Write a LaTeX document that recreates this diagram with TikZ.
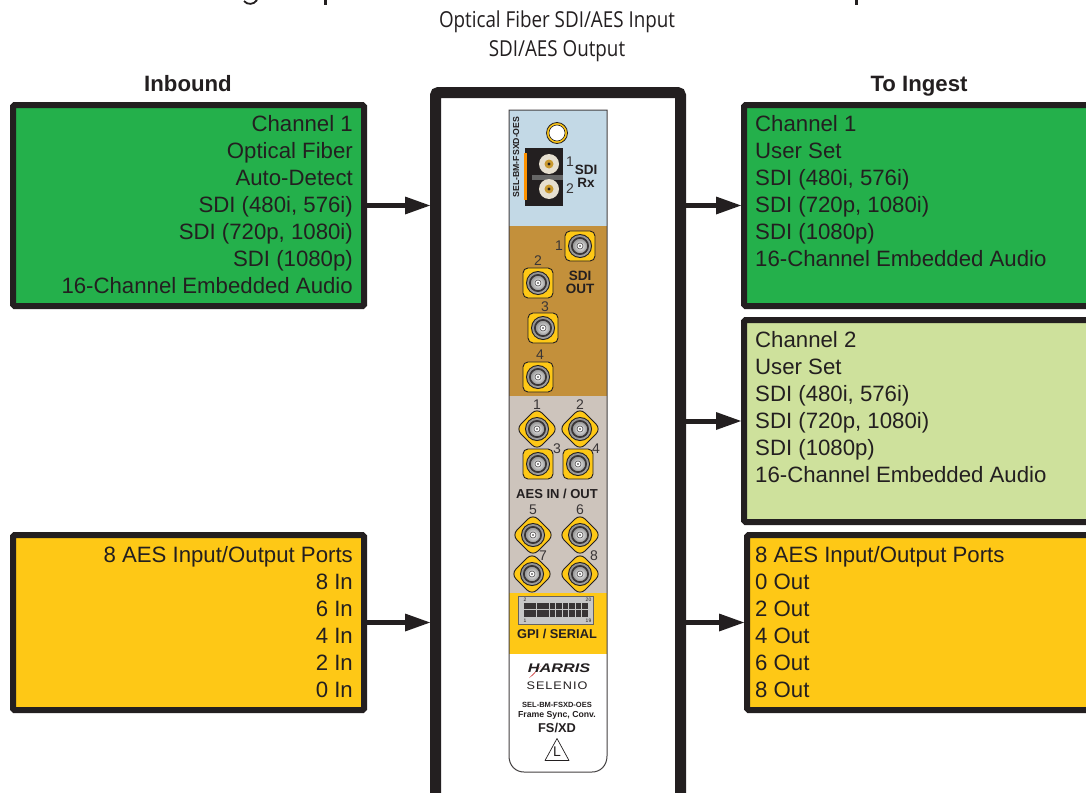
\documentclass[tikz,border=0pt]{standalone}
\usepackage{fontspec}
\setmainfont{Liberation Sans}
\newfontfamily\capfont[FakeStretch=0.855]{Open Sans}
\newfontfamily\selfont[LetterSpace=9,FakeStretch=1.15]{Liberation Sans}
\newfontfamily\harfont[FakeStretch=1.3]{Liberation Sans}
\usetikzlibrary{arrows.meta,calc}
\definecolor{ink}{HTML}{231F20}
\definecolor{gA}{HTML}{24B04B}
\definecolor{gB}{HTML}{CEE19C}
\definecolor{yel}{HTML}{FEC816}
\definecolor{bluep}{HTML}{C3D9E6}
\definecolor{brownp}{HTML}{C3903B}
\definecolor{greyp}{HTML}{CDC4BC}
\definecolor{creamp}{HTML}{E6DFCF}
\definecolor{goldp}{HTML}{C9992F}
\tikzset{
 x=1pt,y=-1pt,
 box/.style={draw=ink,line width=6pt,rounded corners=1.5pt,anchor=north west,inner sep=0pt},
 boxtxt/.style={text=ink,font=\fontsize{22.2}{27}\selectfont,inner sep=0pt},
 flow/.style={draw=ink,line width=5pt,-{Triangle[length=25pt,width=18pt,line width=0pt]},shorten >=0pt},
 headtxt/.style={text=ink,font=\fontsize{22.2}{26}\selectfont\bfseries,inner sep=0pt,anchor=base},
 captxt/.style={text=ink,font=\capfont\fontsize{22}{29}\selectfont,inner sep=0pt,align=center},
 num/.style={text=ink!90,font=\fontsize{14}{14}\selectfont,inner sep=0pt},
 lbl/.style={text=ink,font=\fontsize{13.5}{13}\selectfont\bfseries,inner sep=0pt,align=center},
 bnccore/.pic={
  \fill[ink] (0,0) circle[radius=12];
  \shade[inner color=white,outer color=black!45] (0,0) circle[radius=11];
  \draw[ink!90,line width=2pt] (0,0) circle[radius=8];
  \shade[inner color=white,outer color=black!40] (0,0) circle[radius=7];
  \fill[white,draw=ink!80,line width=.6pt] (0,0) circle[radius=3];
  \fill[ink] (0,0) circle[radius=.9];
 },
 bncsq/.pic={
  \draw[ink,line width=.9pt,fill=yel,rounded corners=5pt] (-15,-15) rectangle (15,15);
  \pic {bnccore};
 },
 bncdi/.pic={
  \draw[ink,line width=.9pt,fill=yel,rounded corners=7pt] (-21,0) -- (0,-21) -- (21,0) -- (0,21) -- cycle;
  \pic {bnccore};
 },
}
\begin{document}
\begin{tikzpicture}
\useasboundingbox (0,0) rectangle (1086,792);
\clip (0,0) rectangle (1086,792);
\fill[white] (0,0) rectangle (1086,792);

% cropped remains of the heading
\draw[ink,line width=1.8pt] (244,1) .. controls (247,5) and (254,5) .. (257,0);
\fill[ink] (324,0) rectangle (327,5);
\fill[ink] (855,0) rectangle (858,5);

\node[captxt] (capt) at (557,36) {Optical Fiber SDI/AES Input\\SDI/AES Output};
\node[headtxt] (hin) at (188,91.5) {Inbound};
\node[headtxt] (hout) at (919,91.5) {To Ingest};

% boxes
\node[box,fill=gA,minimum width=351pt,minimum height=201pt] (in1) at (10,102) {};
\node[box,fill=yel,minimum width=351pt,minimum height=175pt] (in2) at (10,532) {};
\node[box,fill=gA,minimum width=370pt,minimum height=201pt] (out1) at (741,102) {};
\node[box,fill=gB,minimum width=370pt,minimum height=202pt] (out2) at (741,317) {};
\node[box,fill=yel,minimum width=370pt,minimum height=175pt] (out3) at (744,532) {};
\node[box,fill=white,line width=11pt,rounded corners=3pt,minimum width=245pt,minimum height=780pt] (chassis) at (430,87) {};

\node[boxtxt,anchor=north east,align=right] (tin1) at (353,115) {Channel 1\\Optical Fiber\\Auto-Detect\\SDI (480i, 576i)\\SDI (720p, 1080i)\\SDI (1080p)\\16-Channel Embedded Audio};
\node[boxtxt,anchor=north east,align=right] (tin2) at (353,546) {8 AES Input/Output Ports\\8 In\\6 In\\4 In\\2 In\\0 In};
\node[boxtxt,anchor=north west,align=left] (tout1) at (755,115) {Channel 1\\User Set\\SDI (480i, 576i)\\SDI (720p, 1080i)\\SDI (1080p)\\16-Channel Embedded Audio};
\node[boxtxt,anchor=north west,align=left] (tout2) at (755,331) {Channel 2\\User Set\\SDI (480i, 576i)\\SDI (720p, 1080i)\\SDI (1080p)\\16-Channel Embedded Audio};
\node[boxtxt,anchor=north west,align=left] (tout3) at (755,546) {8 AES Input/Output Ports\\0 Out\\2 Out\\4 Out\\6 Out\\8 Out};

% connectors
\draw[flow] (in1.east) -- (in1.east -| chassis.west);
\draw[flow] (in2.east) -- (in2.east -| chassis.west);
\draw[flow] (out1.west -| chassis.east) -- (out1.west);
\draw[flow] (out2.west -| chassis.east) -- (out2.west);
\draw[flow] (out3.west -| chassis.east) -- (out3.west);

% panel bands
\begin{scope}
\clip (509,110) -- (607,110) -- (607,756) .. controls (607,766) and (600,772) .. (592,772) -- (524,772) .. controls (516,772) and (509,766) .. (509,756) -- cycle;
\fill[bluep] (509,110) rectangle (607,226);
\fill[brownp] (509,226) rectangle (607,396);
\fill[greyp] (509,396) rectangle (607,593);
\fill[yel] (509,593) rectangle (607,654);
\fill[white] (509,654) rectangle (607,772);
\end{scope}
\draw[ink!85,line width=1pt] (509,110) -- (607,110) -- (607,756) .. controls (607,766) and (600,772) .. (592,772) -- (524,772) .. controls (516,772) and (509,766) .. (509,756) -- cycle;

% SDI Rx
\draw[ink,line width=.8pt,fill=yel] (557,133) circle[radius=10.5];
\draw[ink,line width=.6pt,fill=white] (557,133) circle[radius=8];
\fill[ink] (525,148) rectangle (563,206);
\fill[black!60] (532,175) rectangle (563,180);
\fill[orange!85!yellow] (524,153) rectangle (527,200);
\foreach \yy in {164,189} {
 \fill[creamp] (549,\yy) circle[radius=10];
 \fill[goldp] (549,\yy) circle[radius=4.5];
 \fill[ink] (549,\yy) circle[radius=1.6];
}
\node[text=ink,font=\fontsize{8.7}{9}\selectfont\bfseries,inner sep=0pt,rotate=90] (sel) at (516,157) {SEL-BM-FSXD-OES};
\node[num] (r1) at (570,162) {1};
\node[num] (r2) at (570,189) {2};
\node[lbl] (rx) at (586,176.5) {SDI\\Rx};

% SDI out
\pic at (580,246) {bncsq};
\pic at (538,283) {bncsq};
\pic at (543,328) {bncsq};
\pic at (538,377) {bncsq};
\node[num] (o1) at (559,246) {1};
\node[num] (o2) at (538,261) {2};
\node[num] (o3) at (545,307) {3};
\node[num] (o4) at (540,355) {4};
\node[lbl] (sdo) at (580,282) {SDI\\OUT};

% AES
\pic at (537,429) {bncdi};
\pic at (580,429) {bncdi};
\pic at (538,464) {bncsq};
\pic at (578,464) {bncsq};
\pic at (533,535) {bncdi};
\pic at (580,535) {bncdi};
\pic at (532,574) {bncdi};
\pic at (580,574) {bncdi};
\node[num] (a1) at (537,405) {1};
\node[num] (a2) at (580,405) {2};
\node[num] (a3) at (557,449) {3};
\node[num] (a4) at (596,449) {4};
\node[num] (a5) at (533,510) {5};
\node[num] (a6) at (580,510) {6};
\node[num] (a7) at (543,556) {7};
\node[num] (a8) at (594,556) {8};
\node[lbl,font=\fontsize{13}{13}\selectfont\bfseries] (aes) at (557,494) {AES IN / OUT};

% GPI
\draw[ink!70,line width=.8pt,fill=black!22] (518.5,596.5) rectangle (593.5,624.5);
\foreach \cx in {0,...,9} \foreach \cy in {0,1} {
 \fill[ink!90] ({524+\cx*6.45},{603+\cy*7.1}) rectangle ++(5.6,6.4);
}
\node[font=\fontsize{5}{5}\selectfont,text=ink,inner sep=0pt] (g2) at (525,600) {2};
\node[font=\fontsize{5}{5}\selectfont,text=ink,inner sep=0pt] (g20) at (588.5,600) {20};
\node[font=\fontsize{5}{5}\selectfont,text=ink,inner sep=0pt] (g1) at (525,621) {1};
\node[font=\fontsize{5}{5}\selectfont,text=ink,inner sep=0pt] (g19) at (588.5,621) {19};
\node[lbl,font=\fontsize{12.8}{13}\selectfont\bfseries] (gpi) at (557,634) {GPI / SERIAL};

% badge
\fill[red!75!black] (529,678) -- (541,666) -- (533,675) -- cycle;
\node[text=ink,font=\harfont\fontsize{12.5}{13}\selectfont\bfseries\itshape,inner sep=0pt] (har) at (559,668) {HARRIS};
\node[text=ink,font=\selfont\fontsize{11}{11}\selectfont,inner sep=0pt] (sln) at (557,686) {SELENIO};
\node[text=ink,font=\fontsize{7.5}{8}\selectfont\bfseries,inner sep=0pt] (pn) at (557,705) {SEL-BM-FSXD-OES};
\node[text=ink,font=\fontsize{8.7}{9}\selectfont\bfseries,inner sep=0pt] (fsc) at (557,715) {Frame Sync, Conv.};
\node[text=ink,font=\fontsize{12.8}{13}\selectfont\bfseries,inner sep=0pt] (fsx) at (557,728) {FS/XD};
\draw[ink,line width=.7pt,line join=round] (557,738.5) -- (569,760.5) -- (545,760.5) -- cycle;
\node[text=ink,font=\fontsize{14}{14}\selectfont,inner sep=0pt] (ll) at (557,752) {L};
\end{tikzpicture}
\end{document}
